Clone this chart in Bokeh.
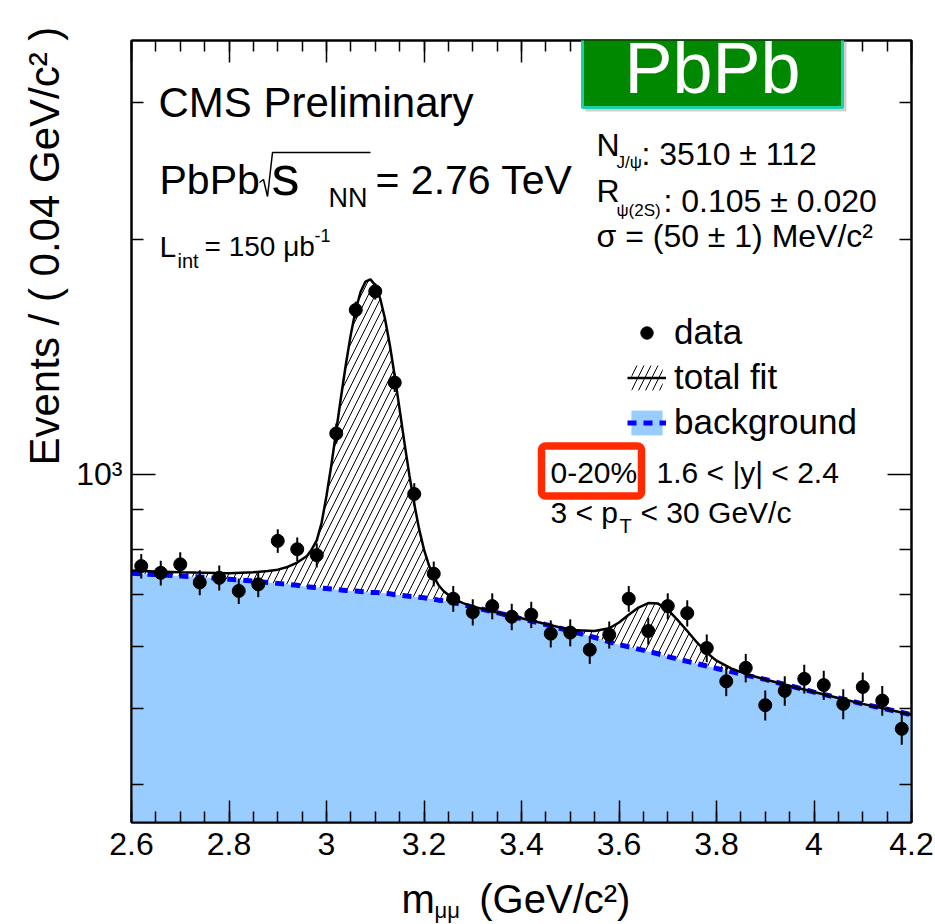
import math
from bokeh.plotting import figure
from bokeh.models import (Range1d, FixedTicker, LinearAxis, LogAxis, Label, BoxAnnotation,
                          Legend, LegendItem, ColumnDataSource)
from bokeh.embed import file_html
from bokeh.resources import INLINE

# ---------------- data ----------------
bin_centers = [2.62, 2.66, 2.70, 2.74, 2.78, 2.82, 2.86, 2.90, 2.94, 2.98,
               3.02, 3.06, 3.10, 3.14, 3.18, 3.22, 3.26, 3.30, 3.34, 3.38,
               3.42, 3.46, 3.50, 3.54, 3.58, 3.62, 3.66, 3.70, 3.74, 3.78,
               3.82, 3.86, 3.90, 3.94, 3.98, 4.02, 4.06, 4.10, 4.14, 4.18]
counts = [762, 747, 766, 726, 736, 708, 722, 821, 801, 787,
          1128, 1625, 1717, 1311, 943, 745, 692, 665, 677, 656,
          660, 624, 626, 595, 622, 692, 629, 677, 663, 598,
          542, 564, 505, 527, 546, 536, 507, 533, 512, 471]

fit_x = [2.60, 2.65, 2.70, 2.75, 2.80, 2.85, 2.88, 2.90, 2.92, 2.94,
         2.96, 2.97, 2.98, 2.99, 3.00, 3.01, 3.02, 3.03, 3.04, 3.05,
         3.06, 3.07, 3.08, 3.09, 3.10, 3.11, 3.12, 3.13, 3.14, 3.15,
         3.16, 3.17, 3.18, 3.19, 3.20, 3.21, 3.22, 3.23, 3.24, 3.26,
         3.28, 3.30, 3.35, 3.40, 3.45, 3.50, 3.55, 3.58, 3.60, 3.62,
         3.64, 3.66, 3.68, 3.70, 3.72, 3.74, 3.76, 3.78, 3.80, 3.83,
         3.86, 3.90, 3.95, 4.00, 4.05, 4.10, 4.15, 4.20]
bkg_fit = [746, 743, 740, 737, 733, 729, 726, 724, 722, 720,
           717, 716, 715, 714, 713, 712, 711, 710, 709, 708,
           708, 707, 706, 705, 705, 704, 703, 702, 700, 699,
           698, 697, 696, 695, 694, 692, 691, 689, 688, 684,
           680, 675, 664, 652, 641, 629, 617, 609, 604, 600,
           596, 592, 588, 583, 579, 575, 571, 567, 563, 558,
           552, 545, 535, 525, 516, 507, 499, 491]
total_fit = [752, 750, 748, 747, 746, 748, 751, 754, 760, 770,
             785, 801, 822, 866, 938, 1028, 1137, 1259, 1387, 1513,
             1627, 1715, 1767, 1779, 1749, 1682, 1583, 1464, 1336, 1211,
             1096, 997, 916, 850, 800, 764, 739, 720, 708, 692,
             683, 676, 664, 653, 642, 631, 629, 634, 645, 660,
             674, 683, 682, 670, 650, 629, 608, 590, 576, 563,
             554, 545, 535, 525, 516, 507, 499, 491]

x_ticks = [2.6, 2.8, 3.0, 3.2, 3.4, 3.6, 3.8, 4.0, 4.2]
x_tick_labels = ["2.6", "2.8", "3", "3.2", "3.4", "3.6", "3.8", "4", "4.2"]
x_minor_ticks = [round(2.6 + 0.05 * i, 2) for i in range(33)]
y_ticks = [1000]
y_tick_labels = ["10³"]
y_minor_ticks = [400, 500, 600, 700, 800, 900, 2000, 3000]

X_RANGE = (2.6, 4.2)
Y_RANGE = (357, 3605)

# ---------------- geometry helpers (page pixels -> data) ----------------
W, H = 935, 924
FL, FR, FT, FB = 131, 911, 40, 822


def px2x(px):
    return X_RANGE[0] + (px - FL) / (FR - FL) * (X_RANGE[1] - X_RANGE[0])


def px2y(py):
    l0, l1 = math.log10(Y_RANGE[0]), math.log10(Y_RANGE[1])
    return 10 ** (l0 + (FB - py) / (FB - FT) * (l1 - l0))


FONT = "Liberation Sans"
NBSP = "\u00a0"

p = figure(width=W, height=H, x_range=Range1d(*X_RANGE), y_range=Range1d(*Y_RANGE),
           y_axis_type="log", output_backend="svg", toolbar_location=None,
           min_border_left=FL, min_border_right=W - FR, min_border_top=FT,
           min_border_bottom=H - FB)
p.xgrid.visible = False
p.ygrid.visible = False
p.outline_line_color = "black"
p.outline_line_width = 2
p.background_fill_color = "white"
p.border_fill_color = "white"


def style_axis(ax, major_len, minor_len):
    ax.axis_line_width = 2
    ax.axis_line_color = "black"
    ax.major_tick_in = major_len
    ax.major_tick_out = 0
    ax.minor_tick_in = minor_len
    ax.minor_tick_out = 0
    ax.major_tick_line_width = 1.5
    ax.minor_tick_line_width = 1.5
    ax.major_tick_line_color = "black"
    ax.minor_tick_line_color = "black"
    ax.major_label_text_font = FONT
    ax.major_label_text_color = "black"


xt = FixedTicker(ticks=x_ticks, minor_ticks=x_minor_ticks)
yt = FixedTicker(ticks=y_ticks, minor_ticks=y_minor_ticks)

xax = p.xaxis[0]
xax.ticker = xt
xax.major_label_overrides = dict(zip(x_ticks, x_tick_labels))
style_axis(xax, 22, 11)
xax.major_label_text_font_size = "32px"
xax.major_label_standoff = 10
xax.axis_label = "m" + NBSP * 4 + "(GeV/c²)" + NBSP
xax.axis_label_text_font = FONT
xax.axis_label_text_font_size = "40px"
xax.axis_label_text_font_style = "normal"
xax.axis_label_text_color = "black"
xax.axis_label_standoff = 19

yax = p.yaxis[0]
yax.ticker = yt
yax.major_label_overrides = dict(zip(y_ticks, y_tick_labels))
style_axis(yax, 24, 12)
yax.major_label_text_font_size = "32px"
yax.major_label_standoff = 9

top_ax = LinearAxis(ticker=xt, major_label_overrides={t: "" for t in x_ticks})
style_axis(top_ax, 22, 11)
top_ax.major_label_standoff = 0
top_ax.major_label_text_font_size = "1px"
p.add_layout(top_ax, "above")

right_ax = LogAxis(ticker=yt, major_label_overrides={t: "" for t in y_ticks})
style_axis(right_ax, 24, 12)
right_ax.major_label_standoff = 0
right_ax.major_label_text_font_size = "1px"
p.add_layout(right_ax, "right")

# ---------------- glyphs ----------------
fit_src = ColumnDataSource(dict(x=fit_x, bkg=bkg_fit, tot=total_fit,
                                floor=[Y_RANGE[0]] * len(fit_x)))
bkg_area = p.varea(x="x", y1="floor", y2="bkg", source=fit_src,
                   fill_color="#99ccff", fill_alpha=1)
hatch_area = p.varea(x="x", y1="bkg", y2="tot", source=fit_src,
                     fill_color="white", fill_alpha=0, hatch_pattern="/",
                     hatch_color="black", hatch_weight=1, hatch_scale=14)
bkg_line = p.line("x", "bkg", source=fit_src, line_color="#0000ff", line_width=5,
                  line_dash="9 7")
tot_line = p.line("x", "tot", source=fit_src, line_color="black", line_width=2.5)

data_src = ColumnDataSource(dict(x=bin_centers, y=counts,
                                 lo=[c - math.sqrt(c) for c in counts],
                                 hi=[c + math.sqrt(c) for c in counts]))
p.segment(x0="x", y0="lo", x1="x", y1="hi", source=data_src, line_color="black",
          line_width=2)
dots = p.scatter("x", "y", source=data_src, size=13, marker="circle",
                 fill_color="black", line_color="black")

# ---------------- legend ----------------
legend = Legend(items=[LegendItem(label="data", renderers=[dots]),
                       LegendItem(label="total fit", renderers=[hatch_area, tot_line]),
                       LegendItem(label="background", renderers=[bkg_area, bkg_line])],
                location=(627 - FL, FB - 442), orientation="vertical",
                label_text_font=FONT, label_text_font_size="35px",
                label_text_color="black", glyph_width=39, glyph_height=31,
                label_standoff=8, spacing=5, padding=0, margin=0,
                border_line_color=None, background_fill_alpha=0)
p.add_layout(legend)


# ---------------- texts ----------------
def lab(text, px, py, size, color="black", align="left", angle=0.0, side=None):
    """px, py: left end of the text and its baseline, in page pixels."""
    off = 0.35 * size
    if angle:
        ax, ay = px - off, py
    else:
        ax, ay = px, py - off
    label = Label(x=px2x(ax), y=px2y(ay), text=text, text_font=FONT,
                  text_font_size=f"{size}px", text_color=color,
                  text_align=align, text_baseline="middle", angle=angle)
    if side is None:
        p.add_layout(label)
    else:
        p.add_layout(label, side)


lab("CMS Preliminary", 158, 117, 42)
lab("PbPb", 159, 194, 41)
lab("s", 271, 195, 56)
lab("NN", 328, 207, 27)
lab("= 2.76 TeV", 375, 194, 41)
p.line([px2x(v) for v in (259, 263, 267, 272, 370)],
       [px2y(v) for v in (182, 179, 196, 152, 152)], line_color="black", line_width=1.5)

lab("L", 159, 256, 30)
lab("int", 177, 267, 20)
lab("= 150 μb", 204, 256, 28)
lab("-1", 314, 241, 18)

lab("N", 596, 156, 32)
lab("J/ψ", 616, 168, 17)
lab(": 3510 ± 112", 641, 165, 32)
lab("R", 596, 202, 32)
lab("ψ(2S)", 616, 216, 17)
lab(": 0.105 ± 0.020", 663, 212, 32)
lab("σ = (50 ± 1) MeV/c²", 596, 247, 32)

p.add_layout(BoxAnnotation(left=px2x(541), right=px2x(641), top=px2y(445.5),
                           bottom=px2y(495.5), fill_alpha=0, line_color="#ff2a00",
                           line_alpha=1, line_width=7.5, border_radius=4))
lab("0-20%", 550, 482, 30)
lab("1.6 < |y| < 2.4", 656, 482, 30)
lab("3 < p", 550, 522, 30)
lab("T", 619, 532, 20)
lab("< 30 GeV/c", 640, 522, 30)

# PbPb badge (sits across the top edge of the frame)
p.add_layout(BoxAnnotation(left=px2x(585), right=px2x(846), top=px2y(16),
                           bottom=px2y(111), fill_color="#777777", fill_alpha=0.35,
                           line_alpha=0), "above")
p.add_layout(BoxAnnotation(left=px2x(582), right=px2x(842), top=px2y(13),
                           bottom=px2y(107), fill_color="#008800", fill_alpha=1,
                           line_color="#1dcfa8", line_alpha=1, line_width=3), "above")
lab("PbPb", 712, 93, 72, color="white", align="center")

# axis titles
lab("Events / ( 0.04 GeV/c² )", 59, 465, 42, angle=math.pi / 2, side="left")
lab("μμ", 434, 918, 22, side="above")

open("out.html", "w").write(file_html(p, INLINE))
